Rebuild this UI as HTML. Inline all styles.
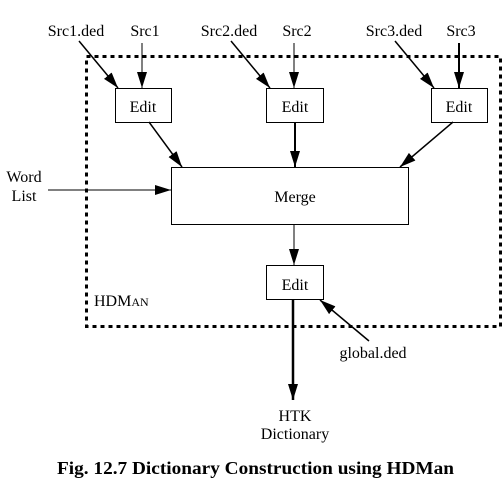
<!DOCTYPE html>
<html><head><style>body{margin:0;background:#fff}svg{display:block}</style></head>
<body>
<svg width="502" height="504" viewBox="0 0 502 504" xmlns="http://www.w3.org/2000/svg" font-family="Liberation Serif, serif" font-size="16">
<defs>
<marker id="b" markerWidth="16" markerHeight="10" refX="16" refY="5" orient="auto" markerUnits="userSpaceOnUse" viewBox="0 0 16 10">
<path d="M0,0 L16,5 L0,10 z" fill="#000"/></marker>
</defs>
<rect x="86.5" y="56.5" width="414" height="270" fill="none" stroke="#000" stroke-width="3" stroke-dasharray="4,4"/>
<g fill="none" stroke="#000" stroke-width="1">
<rect x="115.5" y="88.5" width="56" height="34"/>
<rect x="266.5" y="88.5" width="57" height="34"/>
<rect x="431.5" y="88.5" width="56" height="34"/>
<rect x="171.5" y="167.5" width="237" height="57"/>
<rect x="266.5" y="265.5" width="57" height="34"/>
</g>
<g stroke="#000" stroke-width="1.5" marker-end="url(#b)">
<line x1="79" y1="41" x2="118" y2="88"/>
<line x1="142" y1="43" x2="142" y2="88" stroke-width="1"/>
<line x1="231" y1="41" x2="270" y2="88"/>
<line x1="294" y1="43" x2="294" y2="88" stroke-width="1"/>
<line x1="395" y1="41" x2="434" y2="88"/>
<line x1="459" y1="43" x2="459" y2="88" stroke-width="2"/>
<line x1="149" y1="122" x2="182" y2="167"/>
<line x1="295" y1="122" x2="295" y2="167" stroke-width="2"/>
<line x1="453" y1="122" x2="400" y2="167"/>
<line x1="48" y1="190" x2="171" y2="190" stroke-width="1"/>
<line x1="294" y1="224" x2="294" y2="265" stroke-width="1"/>
<line x1="293" y1="299" x2="293" y2="400" stroke-width="2.5"/>
<line x1="369" y1="341" x2="320" y2="300"/>
</g>
<g text-anchor="middle">
<text x="76" y="36">Src1.ded</text>
<text x="145" y="36">Src1</text>
<text x="229" y="36">Src2.ded</text>
<text x="297" y="36">Src2</text>
<text x="394" y="36">Src3.ded</text>
<text x="461" y="36">Src3</text>
<text x="143" y="112">Edit</text>
<text x="295" y="112">Edit</text>
<text x="459" y="112">Edit</text>
<text x="295" y="202">Merge</text>
<text x="295" y="290">Edit</text>
<text x="24" y="182">Word</text>
<text x="24" y="201">List</text>
<text x="373" y="358">global.ded</text>
<text x="295" y="421">HTK</text>
<text x="295" y="439">Dictionary</text>
</g>
<text x="94" y="306">HDM<tspan font-size="12">AN</tspan></text>
<text x="57" y="474" font-weight="bold" font-size="18" textLength="397" lengthAdjust="spacingAndGlyphs">Fig. 12.7  Dictionary Construction using HDMan</text>
</svg>
</body></html>
